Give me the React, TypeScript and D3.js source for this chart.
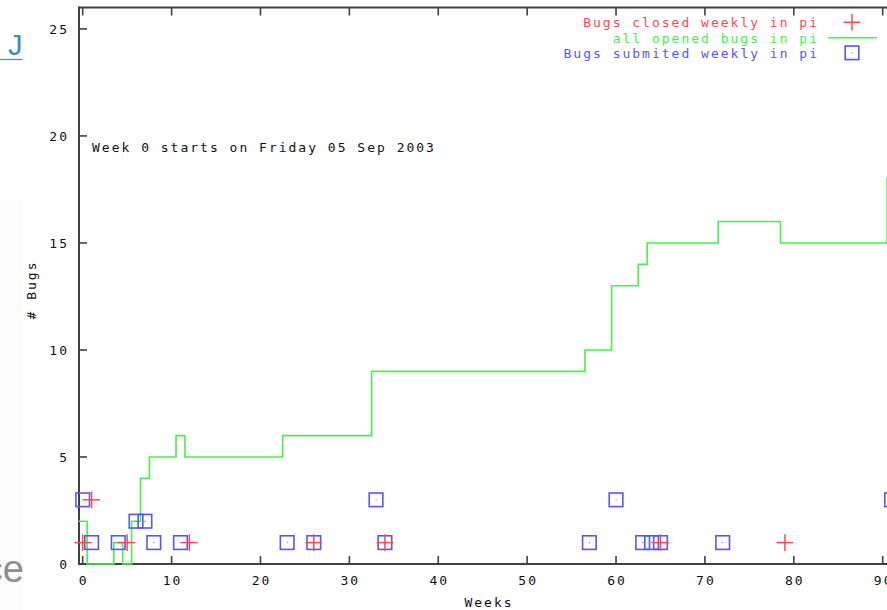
import React from "react";
import * as d3 from "d3";

const weeksClosed = [0, 1, 5, 12, 26, 34, 65, 79];
const closedCounts = [1, 3, 1, 1, 1, 1, 1, 1];

const weeksSubmitted = [0, 1, 4, 6, 7, 8, 11, 23, 26, 33, 34, 57, 60, 63, 64, 65, 72, 91];
const submittedCounts = [3, 1, 1, 2, 2, 1, 1, 1, 1, 3, 1, 1, 3, 1, 1, 1, 1, 3];

const weeksOpenedChange = [0, 1, 4, 5, 6, 7, 8, 11, 12, 23, 33, 57, 60, 63, 64, 72, 79, 91];
const openedCounts = [2, 0, 1, 0, 2, 4, 5, 6, 5, 6, 9, 10, 13, 14, 15, 16, 15, 18];

const xTicks = [0, 10, 20, 30, 40, 50, 60, 70, 80, 90];
const yTicks = [0, 5, 10, 15, 20, 25];

const legendLabels = ["Bugs closed weekly in pi", "all opened bugs in pi", "Bugs submited weekly in pi"];
const noteText = "Week 0 starts on Friday 05 Sep 2003";

const W = 887;
const H = 610;
const RED = "#ff4a4a";
const GREEN = "#4cee4c";
const BLUE = "#5656ff";
const AXIS = "#404040";
const FONT = "'DejaVu Sans Mono', monospace";
const FS = 13;
const LS = 2;

export default function App() {
  const left = 79;
  const top = 7.5;
  const bottom = 564;
  const x = d3.scaleLinear().domain([0, 90]).range([82.7, 882.7]);
  const y = d3.scaleLinear().domain([0, 26]).range([bottom, top]);

  const stepPts: [number, number][] = weeksOpenedChange.map((w, i) => [w - 0.5, openedCounts[i]]);
  stepPts.push([weeksOpenedChange[weeksOpenedChange.length - 1] + 0.5, openedCounts[openedCounts.length - 1]]);
  const line = d3
    .line<[number, number]>()
    .x((d) => x(d[0]))
    .y((d) => y(d[1]))
    .curve(d3.curveStepAfter);

  const plus = (cx: number, cy: number, key: string) => (
    <g key={key} stroke={RED} strokeWidth={1.5}>
      <line x1={cx - 8.3} x2={cx + 8.3} y1={cy} y2={cy} />
      <line x1={cx} x2={cx} y1={cy - 8.3} y2={cy + 8.3} />
    </g>
  );
  const square = (cx: number, cy: number, key: string) => (
    <g key={key}>
      <rect x={cx - 6.8} y={cy - 6.8} width={13.6} height={13.6} fill="none" stroke={BLUE} strokeWidth={1.6} />
      <rect x={cx - 0.5} y={cy - 0.5} width={1} height={1} fill={BLUE} />
    </g>
  );

  const textStyle = { fontFamily: FONT, fontSize: FS, letterSpacing: LS };

  return (
    <svg
      width={W}
      height={H}
      style={{ position: "fixed", left: 0, top: 0, background: "#fff" }}
    >
      <rect x={0} y={0} width={W} height={H} fill="#fff" />
      <rect x={0} y={200} width={23} height={410} fill="#fcfcfc" />
      {/* stray page content at left */}
      <text x={8} y={55} fill="#3a8dc2" style={{ fontFamily: "'Liberation Sans', sans-serif", fontSize: 29 }}>
        J
      </text>
      <line x1={0} x2={22.5} y1={59.5} y2={59.5} stroke="#3a8dc2" strokeWidth={1.2} />
      <text
        x={24}
        y={582}
        textAnchor="end"
        fill="#8f8f8f"
        style={{ fontFamily: "'Liberation Sans', sans-serif", fontSize: 38 }}
      >
        ce
      </text>

      {/* frame */}
      <g stroke={AXIS} strokeWidth={2} fill="none">
        <line x1={left} x2={W + 10} y1={top} y2={top} />
        <line x1={left} x2={W + 10} y1={bottom} y2={bottom} />
        <line x1={left} x2={left} y1={top - 1} y2={bottom + 1} />
      </g>
      {/* ticks */}
      <g stroke={AXIS} strokeWidth={1.6}>
        {yTicks.map((t) => (
          <line key={"yt" + t} x1={left} x2={left + 8} y1={y(t)} y2={y(t)} />
        ))}
        {xTicks.map((t) => (
          <g key={"xt" + t}>
            <line x1={x(t)} x2={x(t)} y1={bottom} y2={bottom - 8} />
            <line x1={x(t)} x2={x(t)} y1={top} y2={top + 8} />
          </g>
        ))}
      </g>
      {/* tick labels */}
      <g fill="#111" style={textStyle}>
        {yTicks.map((t) => (
          <text key={"yl" + t} x={69} y={y(t) + 4.6} textAnchor="end">
            {t}
          </text>
        ))}
        {xTicks.map((t) => (
          <text key={"xl" + t} x={x(t) + LS / 2} y={585} textAnchor="middle">
            {t}
          </text>
        ))}
        <text x={488 + LS / 2} y={607} textAnchor="middle">
          Weeks
        </text>
        <text transform="translate(35.5,290) rotate(-90)" textAnchor="middle">
          # Bugs
        </text>
        <text x={92} y={152}>
          {noteText}
        </text>
      </g>

      {/* opened bugs step line */}
      <path d={line(stepPts) ?? ""} fill="none" stroke={GREEN} strokeWidth={1.6} />

      {/* submitted squares */}
      {weeksSubmitted.map((w, i) => square(x(w), y(submittedCounts[i]), "s" + i))}
      {/* closed plus */}
      {weeksClosed.map((w, i) => plus(x(w), y(closedCounts[i]), "c" + i))}

      {/* legend */}
      <g style={textStyle}>
        <text x={817 + LS} y={27} textAnchor="end" fill={RED}>
          {legendLabels[0]}
        </text>
        <text x={817 + LS} y={42.5} textAnchor="end" fill={GREEN}>
          {legendLabels[1]}
        </text>
        <text x={817 + LS} y={58} textAnchor="end" fill={BLUE}>
          {legendLabels[2]}
        </text>
      </g>
      {plus(852, 22.3, "lp")}
      <line x1={828} x2={877} y1={37.7} y2={37.7} stroke={GREEN} strokeWidth={1.6} />
      {square(852, 52.8, "ls")}
    </svg>
  );
}
